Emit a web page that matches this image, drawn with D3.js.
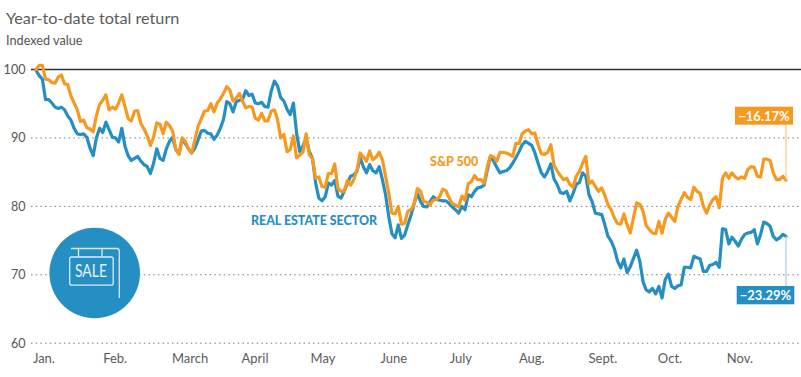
<!DOCTYPE html>
<html><head><meta charset="utf-8">
<script src="https://cdn.jsdelivr.net/npm/d3@7"></script>
<style>html,body{margin:0;background:#fff}svg{display:block}text{font-family:Lato,sans-serif}</style>
</head><body><div id="c"></div>
<script>
const monthLabels = ["Jan.","Feb.","March","April","May","June","July","Aug.","Sept.","Oct.","Nov."];
const monthDays = [2.5,24.9,48.5,68.9,90.3,112.6,133.7,156,178.4,199.5,221.5];
const yTicks = [60,70,80,90,100];
const realEstate = [99.9,99.1,98.6,95.6,95.6,95.1,94.5,94.3,94.5,94.1,93.2,92.6,91.4,90.6,90.5,90.6,90.1,88.5,87.4,90,
91.4,90.8,92.3,91.2,90.1,90,89.4,91.4,88.8,87.4,86.7,87,87.3,86.6,86.1,85.8,84.8,86.3,88.4,87,
86.7,88.4,89.5,90.1,88.3,87.7,89.8,89.2,88.4,87.8,88.5,89.7,91,91.1,90.7,90.6,89.8,90.4,91.4,92.7,
95.3,95,93.8,95.3,95.5,95.6,96.9,96.2,96.4,95.1,95,95.2,94.6,94.5,96.8,
98.3,97.6,95.9,95.4,94.2,93.4,95.1,90.7,88,88.8,90,88,87,83.4,81.2,80.8,81.4,83.4,83.1,83.8,
81.5,81.2,82.2,83.4,84.4,84.6,85.1,87.1,85.8,84.9,86.1,85.2,84.9,85.8,83.9,81.7,78.5,76,75.4,77.3,
75.3,75.8,77.3,78.7,80.4,81.9,80.7,80,79.9,80.7,81.4,81,80.9,80.8,80.8,80.4,79.9,79.5,79,80,79.5,
81.7,81.4,82.2,82.7,82.8,83.1,85.3,87.3,86.6,85.7,84.9,85.1,85.2,85.6,86.3,87.1,88,89,89.5,
89.2,88.9,87.8,86.3,84.9,84.3,85.1,86.2,84,83.2,82,81.9,82.2,80.8,81.9,83.2,83.5,84.9,84.4,81.7,
80.7,79,78.9,78.8,77.3,75.6,74.9,73.8,72,71,72.3,70.3,71.2,72.4,73.6,72,69,67.8,67.5,68,
67.2,68.3,66.6,69.3,70.1,68.3,68,68.4,68.5,71.1,71.1,71,72.7,72.5,72.3,70.5,70.5,71.4,71.5,71.8,
71.1,76.7,76.6,74.5,75.5,74.9,74.2,75.2,75.9,76.1,76.2,76.6,74.5,75.9,77.7,77.5,77.1,75.6,75.1,75.4,75.9,75.6];
const sp500 = [100,100.6,100.6,98.6,98.5,98.1,98,98.9,99.2,97.9,97.8,96.1,95.1,94.1,92.4,92.6,91.5,91.3,90.9,93.2,
94.9,95.5,96.3,94.1,94.5,94.2,95.1,96.3,94.6,92.8,92.5,93.9,94,92.1,91.3,90.3,88.9,90.1,92.2,92,
90.6,92.3,91.8,91,88.3,87.6,90,89.5,88.4,87.8,89.7,91.7,92.8,93.9,94,95,93.8,95.1,95.7,96.5,
97.5,97,95.4,95.8,96.5,95.4,94.4,94.6,94.5,92.9,92.6,93.6,92.5,92.5,93.9,
94.1,92.7,90,90.5,88,88.3,90.3,87.1,87.5,87.9,90.6,87.5,87,84.1,84.3,82.9,82.8,84.8,84.8,86.2,
82.6,82.2,82.2,83.8,83.1,83.9,85.3,87.8,87.2,86.6,88.1,86.8,87.2,87.9,86.8,84.4,81.9,79,78.9,80,
77.4,77.5,79.3,79.5,80.4,82.6,82.2,80.7,80.6,80.2,80.9,81,81.4,82.5,82.3,81.2,80.4,80.2,79.9,81.5,
80.9,83.3,83.6,84.5,83.9,83.9,83.4,85.8,87.4,87.2,86.6,87.9,87.9,87.8,87.6,87.3,89.2,89.2,90.6,91,
91.2,90.6,90.7,89,87.7,87.6,87.9,89,86,85.2,84.5,83.9,84.1,83.2,82.8,84.4,85.1,86.3,87.3,83.3,
83.7,82.9,82.2,82.7,81.6,80.2,79.5,78.3,77.5,77.4,78.9,77.3,76.1,78.3,80.5,80.3,79.3,77.2,76.6,76.1,
76,77.8,76.1,78.1,79,78.4,77.8,80,81,82,81.3,81,82.8,82.2,81.9,80,79,80.2,81,81.4,
79.8,84.1,84.9,84.1,84.9,84.3,84,84.3,84.1,85.4,85.8,85.7,84.4,84.3,86.9,86.9,86.7,84.9,83.9,83.9,84.4,83.8];
const seriesNames = ["REAL ESTATE SECTOR","S&P 500"];
const endLabels = ["−23.29%","−16.17%"];
const title = "Year-to-date total return", subtitle = "Indexed value";

const BLUE="#258fc4", ORANGE="#f7991f", W=801, H=377;
const svg=d3.select("#c").append("svg").attr("width",W).attr("height",H);
const n=Math.max(realEstate.length,sp500.length)-1;
const x=d3.scaleLinear().domain([0,n]).range([36,786]);
const y=d3.scaleLinear().domain([60,100]).range([343.2,69.5]);

svg.append("text").attr("x",6).attr("y",24).attr("font-size",16.2).attr("fill","#5c5c5c").text(title);
svg.append("text").attr("x",6).attr("y",45).attr("font-size",12.7).attr("fill","#555").text(subtitle);

const gy=svg.append("g");
yTicks.forEach(t=>{
  gy.append("line").attr("x1",31).attr("x2",W).attr("y1",y(t)).attr("y2",y(t))
    .attr("stroke",t===100?"#333":"#777").attr("stroke-width",t===100?1.4:1)
    .attr("stroke-dasharray",t===100?null:"1.5 3.2");
  gy.append("text").attr("x",25.5).attr("y",y(t)+4.5).attr("text-anchor","end")
    .attr("font-size",12.6).attr("fill","#555").text(t);
});
monthLabels.forEach((m,i)=>svg.append("text").attr("x",x(monthDays[i])).attr("y",362.5)
  .attr("text-anchor","middle").attr("font-size",13).attr("fill","#5c5c5c").text(m));

const line=d3.line().x((d,i)=>x(i)).y(d=>y(d)).curve(d3.curveLinear);
const paths=[[realEstate,BLUE],[sp500,ORANGE]];
paths.forEach(([d,c])=>svg.append("path").datum(d).attr("d",line).attr("fill","none")
  .attr("stroke",c).attr("stroke-width",3.2).attr("stroke-linejoin","round").attr("stroke-linecap","round"));

svg.append("text").attr("x",251).attr("y",225).attr("font-size",12.4).attr("font-weight",900).attr("fill",BLUE).text(seriesNames[0]);
svg.append("text").attr("x",430).attr("y",166).attr("font-size",12.5).attr("font-weight",900).attr("fill",ORANGE).text(seriesNames[1]);

const xEnd=x(n);
svg.append("line").attr("x1",xEnd).attr("x2",xEnd).attr("y1",124).attr("y2",y(sp500[n])).attr("stroke","#f6c98a").attr("stroke-width",1.2);
svg.append("line").attr("x1",xEnd).attr("x2",xEnd).attr("y1",y(realEstate[n])).attr("y2",287).attr("stroke","#b9d9e9").attr("stroke-width",1.5);
[[735,106.7,58,18,ORANGE,endLabels[1]],[736.7,286,57.6,18.3,BLUE,endLabels[0]]].forEach(([a,b,w,h,c,t])=>{
  svg.append("rect").attr("x",a).attr("y",b).attr("width",w).attr("height",h).attr("fill",c);
  svg.append("text").attr("x",a+w/2).attr("y",b+14).attr("text-anchor","middle").attr("font-size",13).attr("font-weight",700).attr("fill","#fff").text(t);
});

const ic=svg.append("g");
ic.append("circle").attr("cx",94.7).attr("cy",273).attr("r",45.3).attr("fill",BLUE);
const s=ic.append("g").attr("fill","none").attr("stroke","#d9ecf6").attr("stroke-width",1.3);
s.append("path").attr("d","M71 248.5H117a2.5 2.5 0 0 1 2.3 2.5V298");
s.append("path").attr("d","M78.5 248.5V257M102 248.5V257");
s.append("rect").attr("x",69.7).attr("y",257).attr("width",43.5).attr("height",28.2).attr("rx",2);
ic.append("text").attr("x",75).attr("y",277).attr("textLength",32).attr("lengthAdjust","spacingAndGlyphs").attr("font-size",16.5).attr("font-family","'DejaVu Sans'").attr("fill","#eaf4fa").text("SALE");
</script></body></html>
